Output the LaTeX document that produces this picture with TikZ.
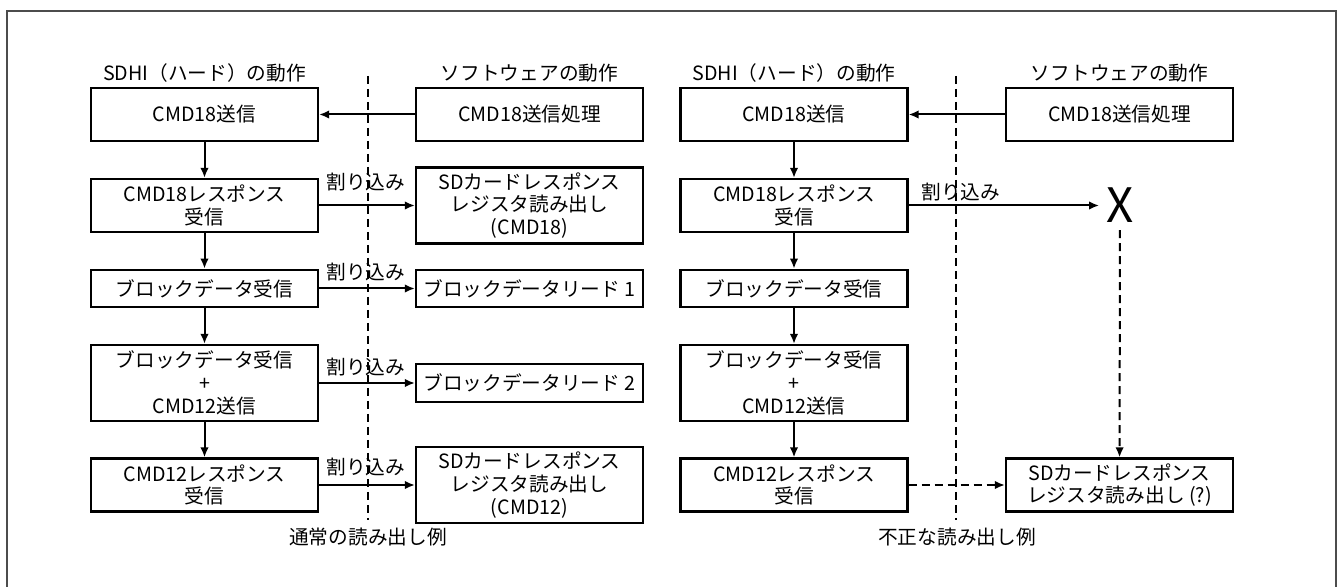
\documentclass[tikz,border=0pt]{standalone}
\usepackage{fontspec}
\setmainfont{Noto Sans CJK JP}
\usetikzlibrary{arrows.meta}

\begin{document}
\begin{tikzpicture}[x=0.02cm,y=-0.02cm,
 box/.style={draw,line width=0.045cm,minimum width=4.54cm,minimum height=1.06cm,align=center,inner sep=1pt,font=\fontsize{11.2}{13}\selectfont},
 tallbox/.style={box,minimum height=1.52cm},
 thinbox/.style={box,minimum height=0.75cm},
 head/.style={inner sep=0pt,font=\fontsize{11.2}{13}\selectfont},
 irq/.style={anchor=west,inner sep=0pt,font=\fontsize{11.2}{13}\selectfont},
 flow/.style={-{Latex[length=0.2cm,width=0.17cm]},line width=0.04cm},
 maybe/.style={flow,dash pattern=on 0.16cm off 0.1cm},
 divider/.style={line width=0.035cm,dash pattern=on 0.16cm off 0.1cm}]
\useasboundingbox (0,0) rectangle (1341,587);
\draw[line width=0.035cm,black!70] (7,587) -- (7,11) -- (1336,11) -- (1336,587);

% normal read
\node[head] (hl1) at (204.5,73) {SDHI（ハード）の動作};
\node[head] (hl2) at (529.5,73) {ソフトウェアの動作};
\coordinate (dl1) at (368,76);
\coordinate (dl2) at (368,520);
\draw[divider] (dl1) -- (dl2);

\node[box] (hw1) at (204.5,114.5) {CMD18送信};
\node[box] (hw2) at (204.5,205.5) {CMD18レスポンス\\受信};
\node[thinbox] (hw3) at (204.5,288.5) {ブロックデータ受信};
\node[tallbox] (hw4) at (204.5,383) {ブロックデータ受信\\+\\CMD12送信};
\node[box] (hw5) at (204.5,485) {CMD12レスポンス\\受信};

\node[box] (sw1) at (529.5,114.5) {CMD18送信処理};
\node[tallbox] (sw2) at (529.5,205.5) {SDカードレスポンス\\レジスタ読み出し\\(CMD18)};
\node[thinbox] (sw3) at (529.5,288.5) {ブロックデータリード 1};
\node[thinbox] (sw4) at (529.5,383) {ブロックデータリード 2};
\node[tallbox] (sw5) at (529.5,485) {SDカードレスポンス\\レジスタ読み出し\\(CMD12)};

\draw[flow] (sw1) -- (hw1);
\draw[flow] (hw1) -- (hw2);
\draw[flow] (hw2) -- (hw3);
\draw[flow] (hw3) -- (hw4);
\draw[flow] (hw4) -- (hw5);
\draw[flow] (hw2) -- (sw2);
\draw[flow] (hw3) -- (sw3);
\draw[flow] (hw4) -- (sw4);
\draw[flow] (hw5) -- (sw5);
\node[irq] (i1) at (326,182) {割り込み};
\node[irq] (i2) at (326,272) {割り込み};
\node[irq] (i3) at (326,367) {割り込み};
\node[irq] (i4) at (326,467) {割り込み};
\node[head] (cap1) at (368,537) {通常の読み出し例};

% bad read
\node[head] (hr1) at (794,73) {SDHI（ハード）の動作};
\node[head] (hr2) at (1119.5,73) {ソフトウェアの動作};
\coordinate (dr1) at (956,76);
\coordinate (dr2) at (956,520);
\draw[divider] (dr1) -- (dr2);

\node[box] (hwr1) at (794,114.5) {CMD18送信};
\node[box] (hwr2) at (794,205.5) {CMD18レスポンス\\受信};
\node[thinbox] (hwr3) at (794,288.5) {ブロックデータ受信};
\node[tallbox] (hwr4) at (794,383) {ブロックデータ受信\\+\\CMD12送信};
\node[box] (hwr5) at (794,485) {CMD12レスポンス\\受信};

\node[box] (swr1) at (1119.5,114.5) {CMD18送信処理};
\node[inner sep=0.14cm,font=\fontsize{27}{27}\selectfont] (lost) at (1120,205.5) {X};
\node[box] (swr5) at (1119.5,485) {SDカードレスポンス\\レジスタ読み出し (?)};

\draw[flow] (swr1) -- (hwr1);
\draw[flow] (hwr1) -- (hwr2);
\draw[flow] (hwr2) -- (hwr3);
\draw[flow] (hwr3) -- (hwr4);
\draw[flow] (hwr4) -- (hwr5);
\draw[flow] (hwr2) -- (lost);
\draw[maybe] (lost) -- (swr5);
\draw[maybe] (hwr5) -- (swr5);
\node[irq] (i5) at (921,192) {割り込み};
\node[head] (cap2) at (957,537) {不正な読み出し例};
\end{tikzpicture}
\end{document}
